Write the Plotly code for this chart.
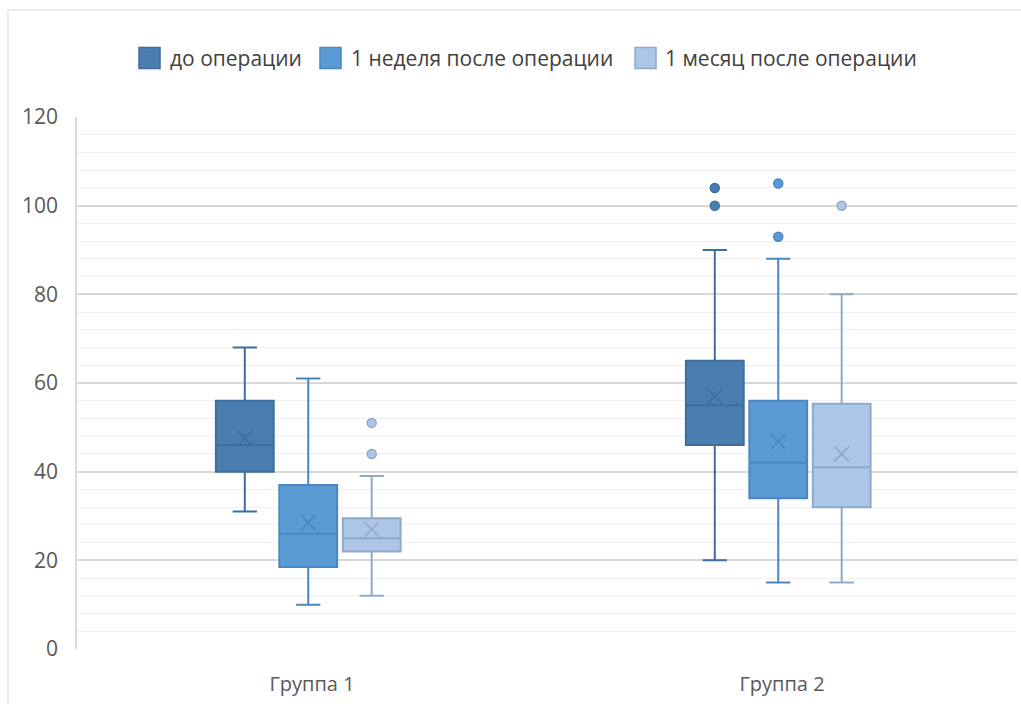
import plotly.graph_objects as go

groups = ["Группа 1", "Группа 2"]
series = ["до операции", "1 неделя после операции", "1 месяц после операции"]

# per series: values for [Группа 1, Группа 2]
lower = {"до операции": [31, 20], "1 неделя после операции": [10, 15], "1 месяц после операции": [12, 15]}
q1 = {"до операции": [40, 46], "1 неделя после операции": [18.5, 34], "1 месяц после операции": [22, 32]}
median = {"до операции": [46, 55], "1 неделя после операции": [26, 42], "1 месяц после операции": [25, 41]}
q3 = {"до операции": [56, 65], "1 неделя после операции": [37, 56], "1 месяц после операции": [29.5, 55.3]}
upper = {"до операции": [68, 90], "1 неделя после операции": [61, 88], "1 месяц после операции": [39, 80]}
mean = {"до операции": [47.5, 57], "1 неделя после операции": [28.5, 46.8], "1 месяц после операции": [27, 44]}
outliers = {
    "до операции": [[], [104, 100]],
    "1 неделя после операции": [[], [105, 93]],
    "1 месяц после операции": [[51, 44], [100]],
}

fills = ["#4A7EB0", "#5B9BD5", "#ADC5E6"]
lines = ["#3E6E9C", "#4A86BF", "#8FA9C9"]

W, H = 1021, 704
L, R, T, B = 77, 4, 117, 55
offset_step = 0.135
shift = -0.008
box_w = 0.123

ph = H - T - B
pw = W - L - R


def px_x(p):
    return (p - L) / pw


def px_y(p):
    return (H - B - p) / ph


fig = go.Figure()
for k, s in enumerate(series):
    for g in range(len(groups)):
        xpos = g + (k - 1) * offset_step + shift
        fig.add_trace(go.Box(
            x=[xpos], q1=[q1[s][g]], median=[median[s][g]], q3=[q3[s][g]],
            lowerfence=[lower[s][g]], upperfence=[upper[s][g]],
            name=s, legendgroup=s, showlegend=False,
            width=box_w, whiskerwidth=0.42,
            fillcolor=fills[k], line=dict(color=lines[k], width=2),
            boxpoints=False, hoverinfo="skip",
        ))
        fig.add_trace(go.Scatter(
            x=[xpos], y=[mean[s][g]], mode="markers", showlegend=False,
            marker=dict(symbol="x-thin-open", size=15, color=lines[k],
                        line=dict(color=lines[k], width=1.6)),
            hoverinfo="skip",
        ))
        if outliers[s][g]:
            fig.add_trace(go.Scatter(
                x=[xpos] * len(outliers[s][g]), y=outliers[s][g], mode="markers", showlegend=False,
                marker=dict(symbol="circle", size=9, color=fills[k], line=dict(color=lines[k], width=1.5)),
                hoverinfo="skip",
            ))

# chart-area border
fig.add_shape(type="rect", xref="paper", yref="paper",
              x0=px_x(8), x1=px_x(W + 20), y0=px_y(H + 20), y1=px_y(10),
              line=dict(color="#d9d9d9", width=1), fillcolor="rgba(0,0,0,0)", layer="below")

# custom legend (swatch + label)
font = "Open Sans"
legend_swatch_x = [139, 320, 635]
legend_text_x = [168, 349, 663]
sw = 21
ly = 58
for k, s in enumerate(series):
    x0 = legend_swatch_x[k]
    fig.add_shape(type="rect", xref="paper", yref="paper",
                  x0=px_x(x0), x1=px_x(x0 + sw), y0=px_y(ly + sw / 2), y1=px_y(ly - sw / 2),
                  fillcolor=fills[k], line=dict(color=lines[k], width=1.5))
    fig.add_annotation(xref="paper", yref="paper", x=px_x(legend_text_x[k]), y=px_y(ly),
                       xanchor="left", yanchor="middle", text=s, showarrow=False,
                       font=dict(size=21, color="#404040", family=font))

fig.update_layout(
    width=W, height=H,
    margin=dict(l=L, r=R, t=T, b=B, autoexpand=False),
    paper_bgcolor="white", plot_bgcolor="white",
    font=dict(family=font, color="#595959"),
    showlegend=False,
    xaxis=dict(range=[-0.5, 1.5], tickmode="array", tickvals=[0, 1], ticktext=groups,
               showgrid=False, zeroline=False, showline=False, ticks="", automargin=False,
               tickfont=dict(size=20, color="#595959"), ticklabelstandoff=21, fixedrange=True),
    yaxis=dict(range=[0, 120], dtick=20, tick0=0, showgrid=True, gridcolor="#d9d9d9", gridwidth=1.5,
               zeroline=False, showline=True, linecolor="#d9d9d9", linewidth=1.5, ticks="",
               automargin=False,
               minor=dict(dtick=4, showgrid=True, gridcolor="#f0f0f0", gridwidth=1),
               tickfont=dict(size=21, color="#595959"), ticklabelstandoff=13),
)
fig.write_html("out.html", config={"displayModeBar": False},
               post_script="document.body.style.margin='0';document.body.style.overflow='hidden';")
